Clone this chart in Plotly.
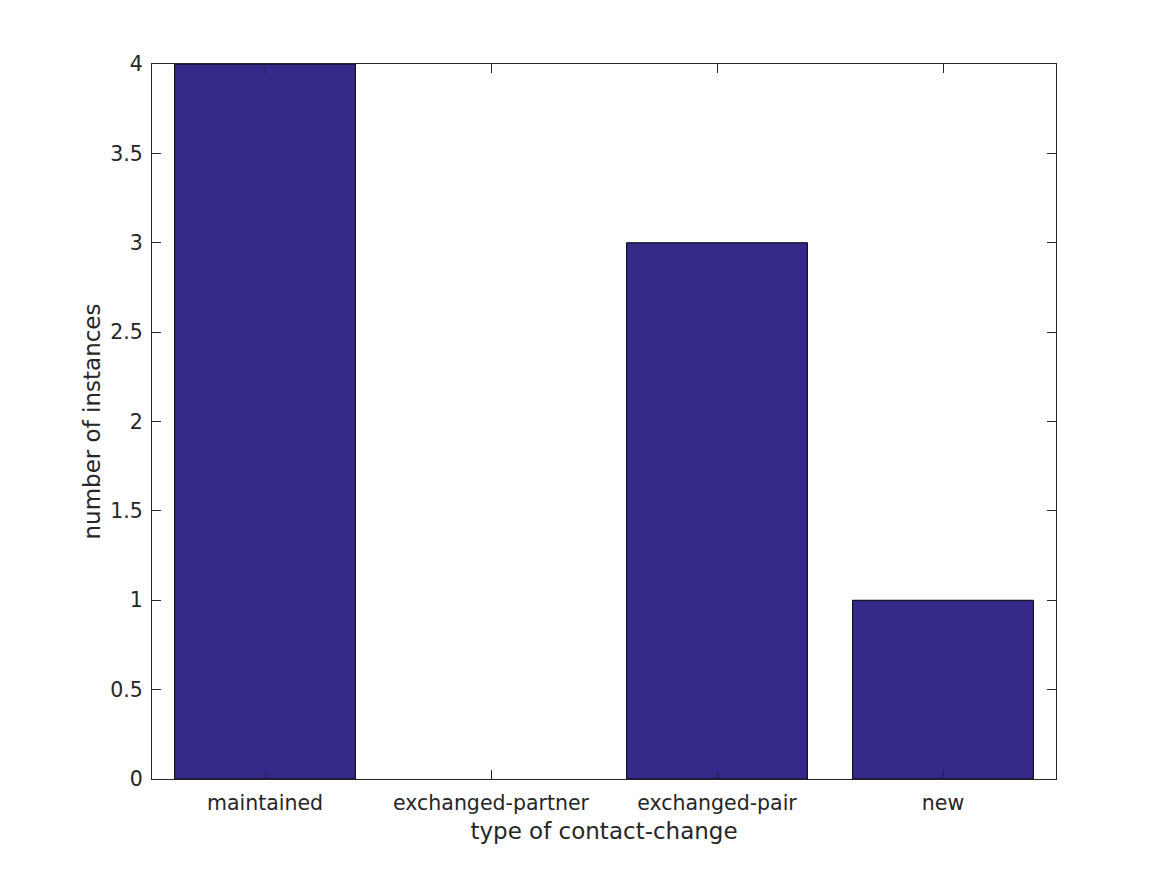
import plotly.graph_objects as go

categories = ["maintained", "exchanged-partner", "exchanged-pair", "new"]
counts = [4, 0, 3, 1]
y_ticks = [0, 0.5, 1, 1.5, 2, 2.5, 3, 3.5, 4]
y_tick_labels = ["0", "0.5", "1", "1.5", "2", "2.5", "3", "3.5", "4"]

# hide outline for empty (zero-height) bars, like the original
edge_widths = [1 if v > 0 else 0 for v in counts]

fig = go.Figure(go.Bar(
    x=categories, y=counts, width=0.8,
    marker=dict(color="#352a87", line=dict(color="black", width=edge_widths)),
))

axis_common = dict(
    showline=True, linecolor="#262626", linewidth=1, mirror="allticks",
    ticks="inside", ticklen=9, tickcolor="#262626", tickwidth=1,
    showgrid=False, zeroline=False,
    tickfont=dict(family="DejaVu Sans", size=20.5, color="#262626"),
)

fig.update_layout(
    width=1167, height=875,
    margin=dict(l=144, r=119, t=56, b=104),
    plot_bgcolor="white", paper_bgcolor="white",
    showlegend=False,
    xaxis=dict(**axis_common, type="category", range=[-0.5, 3.5],
               ticklabelstandoff=5,
               title=dict(text="type of contact-change", standoff=9,
                          font=dict(family="DejaVu Sans", size=23, color="#262626"))),
    yaxis=dict(**axis_common, range=[0, 4], tickvals=y_ticks, ticktext=y_tick_labels,
               ticklabelstandoff=4,
               title=dict(text="number of instances", standoff=3,
                          font=dict(family="DejaVu Sans", size=23, color="#262626"))),
)

fig.write_html("out.html")
